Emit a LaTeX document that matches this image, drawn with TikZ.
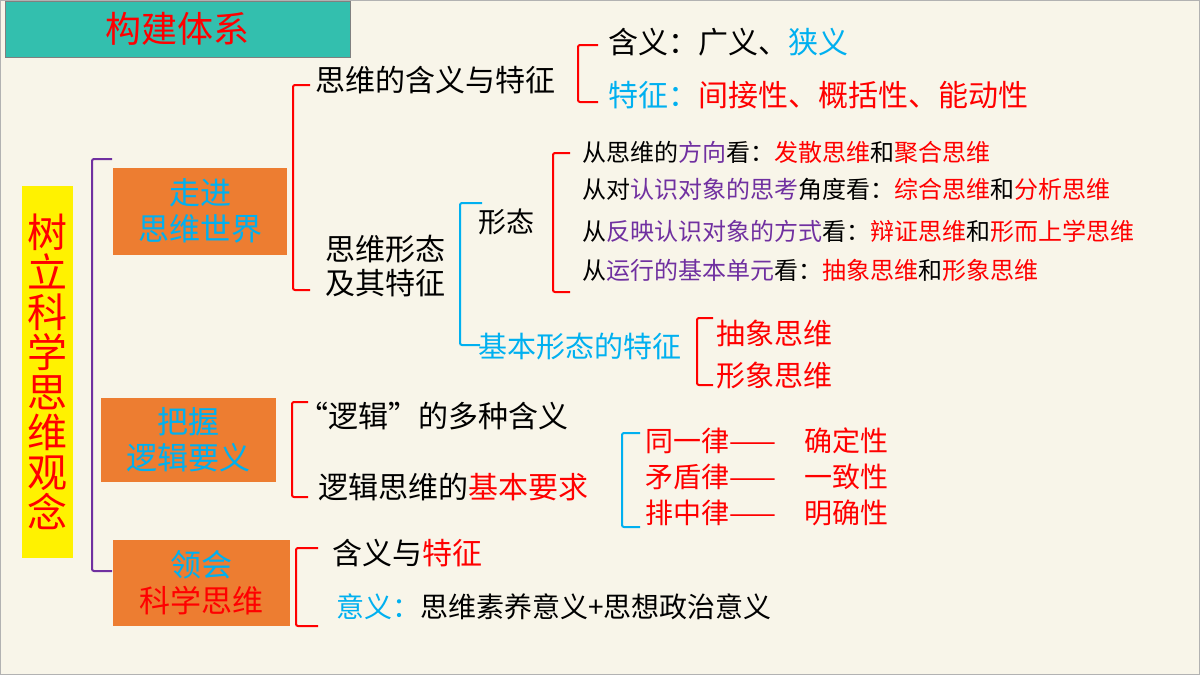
\documentclass[tikz,border=0pt]{standalone}
\usepackage{fontspec}
\setmainfont{Noto Sans CJK SC}
\definecolor{bg}{HTML}{F8F5E9}
\definecolor{teal}{HTML}{33BFAE}
\definecolor{orangebox}{HTML}{ED7D31}
\definecolor{red}{HTML}{FF0000}
\definecolor{cyan}{HTML}{00B0F0}
\definecolor{purp}{HTML}{7030A0}
\newcommand{\fs}[1]{\fontsize{#1}{#1}\selectfont}
\newcommand{\rd}[1]{\textcolor{red}{#1}}
\newcommand{\bl}[1]{\textcolor{cyan}{#1}}
\newcommand{\pu}[1]{\textcolor{purp}{#1}}
\begin{document}
\begin{tikzpicture}
        [
            x=1pt, y=-1pt,
            txt/.style={anchor=west, inner sep=0pt, font=\fs{28}},
            small/.style={anchor=west, inner sep=0pt, font=\fs{24}},
            orbox/.style={fill=orangebox, inner sep=0pt, align=center, font=\fs{31}\linespread{1.15}\selectfont, text=cyan},
            brace/.style={line width=2pt, rounded corners=2pt}
        ]
        \fill[bg] (0,0) rectangle (1200,675);
        \draw[gray!60] (0.5,0.5) rectangle (1199.5,674.5);

        % title and root
        \node[fill=teal, draw=gray, minimum width=345pt, minimum height=56pt, anchor=north west, text=red, font=\fs{36}] (title) at (5,1) {构建体系};
        \node[fill=yellow, minimum width=51pt, minimum height=372pt, anchor=north west, text=red, font=\fs{40}, align=center, inner sep=0pt] (root) at (22,186)
            {\linespread{1.12}\selectfont 树\\立\\科\\学\\思\\维\\观\\念};
        \draw[brace, purp] (112,159) -- (92,159) -- (92,571) -- (112,571);

        % level one
        \node[orbox, minimum width=174pt, minimum height=87pt] (world) at (200,211) {走进\\思维世界};
        \node[orbox, minimum width=175pt, minimum height=84pt] (logic) at (188,440) {把握\\逻辑要义};
        \node[orbox, minimum width=177pt, minimum height=86pt] (sci) at (201,583) {领会\\\rd{科学思维}};

        % 走进思维世界
        \draw[brace, red] (310,85) -- (293,85) -- (293,290) -- (310,290);
        \node[txt, font=\fs{30}] (mean) at (315,80) {思维的含义与特征};
        \draw[brace, red] (598,45) -- (578,45) -- (578,102) -- (598,102);
        \node[txt, font=\fs{30}] (guang) at (608,42) {含义：广义、\bl{狭义}};
        \node[txt, font=\fs{30}] (tezh) at (608,95) {\bl{特征：}\rd{间接性、概括性、能动性}};
        \node[inner sep=0pt, align=center, font=\fs{30}] (form) at (385,266) {思维形态\\[4pt]及其特征};
        \draw[brace, cyan] (482,203) -- (460,203) -- (460,345) -- (480,345);
        \node[txt] (xt) at (478,222) {形态};
        \draw[brace, red] (570,153) -- (553,153) -- (553,292) -- (570,292);
        \node[small] (f1) at (582,152) {从思维的\pu{方向}看：\rd{发散思维}和\rd{聚合思维}};
        \node[small] (f2) at (582,189) {从对\pu{认识对象的思考}角度看：\rd{综合思维}和\rd{分析思维}};
        \node[small] (f3) at (582,231) {从\pu{反映认识对象的方式}看：\rd{辩证思维}和\rd{形而上学思维}};
        \node[small] (f4) at (582,270) {从\pu{运行的基本单元}看：\rd{抽象思维}和\rd{形象思维}};
        \node[txt, font=\fs{29}, text=cyan] (basic) at (478,347) {基本形态的特征};
        \draw[brace, red] (713,318) -- (697,318) -- (697,385) -- (713,385);
        \node[txt, font=\fs{29}, text=red] (chx) at (716,333) {抽象思维};
        \node[txt, font=\fs{29}, text=red] (xx) at (716,376) {形象思维};

        % 把握逻辑要义
        \draw[brace, red] (308,402) -- (292,402) -- (292,497) -- (308,497);
        \node[txt, font=\fs{30}] (duo) at (298,416) {“逻辑”的多种含义};
        \node[txt, font=\fs{30}] (req) at (318,487) {逻辑思维的\rd{基本要求}};
        \draw[brace, cyan] (640,433) -- (622,433) -- (622,527) -- (640,527);
        \node[txt, text=red] (l1) at (645,441) {同一律——\hspace{28pt}确定性};
        \node[txt, text=red] (l2) at (645,477) {矛盾律——\hspace{28pt}一致性};
        \node[txt, text=red] (l3) at (645,513) {排中律——\hspace{28pt}明确性};

        % 领会科学思维
        \draw[brace, red] (318,548) -- (296,548) -- (296,626) -- (318,626);
        \node[txt, font=\fs{30}] (hy) at (332,553) {含义与\rd{特征}};
        \node[txt, font=\fs{28}] (yy) at (336,607) {\bl{意义：}思维素养意义+思想政治意义};
    \end{tikzpicture}
\end{document}
